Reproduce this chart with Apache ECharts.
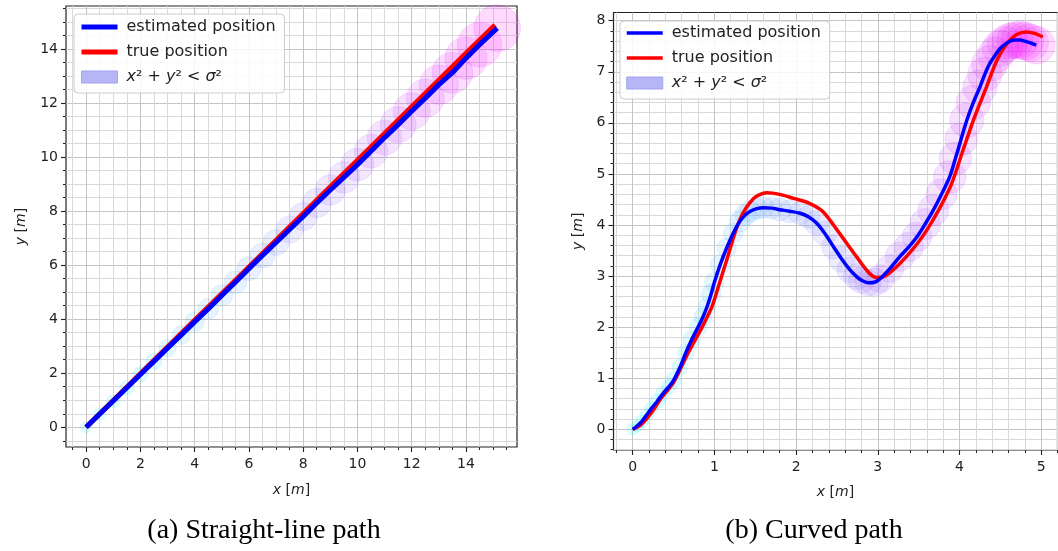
<!DOCTYPE html>
<html><head><meta charset="utf-8">
<script src="https://cdn.jsdelivr.net/npm/echarts@6/dist/echarts.min.js"></script>
<style>html,body{margin:0;padding:0;background:#fff}#c{width:1058px;height:551px}</style>
</head><body><div id="c"></div>
<script>
// ---------- (a) straight-line path ----------
const straightEstX = [0,0.5,1,1.5,2,2.5,3,3.5,4,4.5,5,5.5,6,6.5,7,7.5,8,8.5,9,9.5,10,10.5,11,11.5,12,12.5,13,13.5,14,14.5,15.15];
const straightEstY = [0,0.49,0.97,1.46,1.95,2.44,2.93,3.41,3.9,4.38,4.88,5.37,5.87,6.36,6.84,7.32,7.8,8.3,8.78,9.25,9.72,10.22,10.72,11.2,11.7,12.18,12.68,13.12,13.66,14.16,14.77];
const straightSigma = [0.2,0.22,0.24,0.26,0.28,0.3,0.32,0.34,0.36,0.38,0.4,0.42,0.44,0.46,0.48,0.5,0.52,0.54,0.56,0.58,0.6,0.62,0.64,0.66,0.68,0.7,0.72,0.75,0.78,0.82,0.86];
const straightTrueX = [0,1,2,3,4,5,6,7,8,9,10,11,12,13,14,15.07];
const straightTrueY = [0,0.99,1.98,2.97,3.96,4.94,5.93,6.92,7.91,8.9,9.88,10.87,11.86,12.85,13.84,14.89];
const straightXTicks = [0,2,4,6,8,10,12,14];
const straightYTicks = [0,2,4,6,8,10,12,14];

// ---------- (b) curved path ----------
const curvedEstX = [0,0.05,0.11,0.17,0.23,0.3,0.37,0.44,0.5,0.58,0.65,0.72,0.8,0.86,0.91,0.96,1.0,1.07,1.15,1.23,1.31,1.38,1.44,1.52,1.6,1.7,1.8,1.92,2.05,2.15,2.25,2.35,2.46,2.56,2.66,2.74,2.8,2.88,2.96,3.03,3.15,3.27,3.38,3.48,3.58,3.68,3.78,3.88,3.95,4.02,4.09,4.17,4.25,4.31,4.37,4.44,4.5,4.56,4.62,4.68,4.74,4.8,4.86,4.94];
const curvedEstY = [0,0.06,0.15,0.28,0.41,0.55,0.7,0.83,0.96,1.22,1.5,1.75,2.0,2.2,2.4,2.65,2.88,3.22,3.55,3.84,4.07,4.2,4.27,4.32,4.34,4.33,4.3,4.27,4.23,4.16,4.04,3.84,3.57,3.33,3.12,2.99,2.92,2.87,2.88,2.95,3.15,3.38,3.57,3.77,4.02,4.29,4.6,4.94,5.3,5.68,6.05,6.4,6.7,6.95,7.16,7.33,7.46,7.54,7.6,7.62,7.62,7.6,7.57,7.52];
const curvedSigma = [0.07,0.07,0.08,0.08,0.08,0.09,0.09,0.09,0.1,0.1,0.1,0.11,0.11,0.11,0.11,0.12,0.12,0.12,0.12,0.12,0.13,0.13,0.13,0.13,0.13,0.13,0.14,0.14,0.14,0.14,0.15,0.15,0.15,0.16,0.16,0.16,0.16,0.16,0.17,0.17,0.17,0.18,0.18,0.18,0.19,0.19,0.19,0.2,0.2,0.2,0.21,0.21,0.21,0.21,0.22,0.22,0.22,0.22,0.22,0.22,0.23,0.23,0.23,0.23];
const curvedTrueX = [0,0.11,0.25,0.33,0.5,0.68,0.85,0.97,1.06,1.15,1.31,1.48,1.64,1.8,1.97,2.17,2.33,2.53,2.74,2.9,2.99,3.11,3.35,3.6,3.88,4.03,4.17,4.33,4.46,4.58,4.7,4.82,4.92,5.02];
const curvedTrueY = [0,0.1,0.37,0.57,0.92,1.5,2.0,2.4,2.85,3.31,4.1,4.52,4.63,4.6,4.52,4.42,4.26,3.84,3.38,3.05,2.97,3.02,3.38,3.9,4.72,5.4,6.05,6.7,7.23,7.55,7.73,7.78,7.75,7.68];
const curvedXTicks = [0,1,2,3,4,5];
const curvedYTicks = [0,1,2,3,4,5,6,7,8];

const seriesNames = ['estimated position', 'true position', 'sigma'];
const captions = ['(a) Straight-line path', '(b) Curved path'];

function minorRange(a, b, step, major) {
  const out = [];
  for (let v = a; v <= b + 1e-9; v += step) {
    const r = Math.round(v * 1000) / 1000;
    if (!major.some(m => Math.abs(m - r) < 1e-6)) out.push(r);
  }
  return out;
}
const FONT = 'DejaVu Sans';
const INK = '#222';

function axisPair(dim, gridIndex, min, max, major, minor, nameGap) {
  const pos = dim === 'x' ? 'bottom' : 'left';
  const main = {
    type: 'value', gridIndex, min, max, position: pos,
    axisLine: { show: false, onZero: false },
    axisTick: { show: true, customValues: major, length: 5, lineStyle: { color: INK, width: 1.1 } },
    axisLabel: { customValues: major, fontSize: 14, color: INK, fontFamily: FONT, margin: dim === 'x' ? 10 : 8 },
    splitLine: { show: true, lineStyle: { color: '#c4c4c4', width: 1 } },
    name: dim === 'x' ? '{i|x} [{i|m}]' : '{i|y} [{i|m}]',
    nameLocation: 'middle', nameGap,
    nameTextStyle: { fontSize: 14, color: INK, fontFamily: FONT,
      rich: { i: { fontStyle: 'italic', fontSize: 14, color: INK, fontFamily: FONT } } }
  };
  const min2 = {
    type: 'value', gridIndex, min, max, position: pos,
    axisLine: { show: false, onZero: false },
    axisTick: { show: true, customValues: minor, length: 3, lineStyle: { color: INK, width: 1 } },
    axisLabel: { show: false },
    splitLine: { show: true, lineStyle: { color: '#d9d9d9', width: 1 } }
  };
  return [main, min2];
}

function coolColor(t, a) {
  return 'rgba(' + Math.round(255 * t) + ',' + Math.round(255 * (1 - t)) + ',255,' + a + ')';
}
function circles(xs, ys, sig, ppu) {
  const n = xs.length;
  return xs.map((x, i) => {
    const t = i / (n - 1);
    return { value: [x, ys[i]], symbolSize: 2 * sig[i] * ppu,
      itemStyle: { color: coolColor(t, 0.18), borderColor: coolColor(t, 0.2), borderWidth: 0.8 } };
  });
}
const zip = (a, b) => a.map((v, i) => [v, b[i]]);

function legendFor(left, top, padding, gap, lw) {
  return {
    left, top, orient: 'vertical', padding, itemGap: gap,
    itemWidth: 36, itemHeight: 12,
    backgroundColor: 'rgba(255,255,255,0.85)', borderColor: '#cccccc', borderWidth: 1, borderRadius: 4,
    lineStyle: { width: lw },
    textStyle: { fontSize: 16, color: INK, fontFamily: FONT, padding: [0, 0, 0, 4],
      rich: { i: { fontStyle: 'italic', fontSize: 16, color: INK, fontFamily: FONT } } },
    formatter: n => n === 'sigma' ? '{i|x}² + {i|y}² < {i|σ}²' : n,
    data: [
      { name: seriesNames[0], itemStyle: { opacity: 0 } },
      { name: seriesNames[1], itemStyle: { opacity: 0 } },
      { name: seriesNames[2], icon: 'rect', itemStyle: { color: '#b6b6f6', borderColor: '#a2a2ef', borderWidth: 1, opacity: 1 } }
    ]
  };
}

function buildOption(ppuA, ppuB) {
  const ax0 = axisPair('x', 0, -0.74, 15.88, straightXTicks, minorRange(-0.5, 15.5, 0.5, straightXTicks), 36);
  const ay0 = axisPair('y', 0, -0.73, 15.59, straightYTicks, minorRange(-0.5, 15.5, 0.5, straightYTicks), 38);
  const ax1 = axisPair('x', 1, -0.235, 5.2, curvedXTicks, minorRange(-0.2, 5.2, 0.2, curvedXTicks), 35);
  const ay1 = axisPair('y', 1, -0.405, 8.16, curvedYTicks, minorRange(-0.4, 8.2, 0.2, curvedYTicks), 28);
  return {
    animation: false,
    backgroundColor: '#fff',
    grid: [
      { left: 66, top: 6, width: 451, height: 441, show: true, borderColor: INK, borderWidth: 1.2, backgroundColor: 'transparent' },
      { left: 613.5, top: 12.5, width: 444, height: 437.5, show: true, borderColor: INK, borderWidth: 1.2, backgroundColor: 'transparent' }
    ],
    xAxis: [ax0[0], ax0[1], ax1[0], ax1[1]],
    yAxis: [ay0[0], ay0[1], ay1[0], ay1[1]],
    legend: [legendFor(74, 14, [5, 9, 8, 5], 9, 5), legendFor(620, 21, [4, 9, 8, 5], 9, 3.5)],
    graphic: [
      { type: 'text', x: 264, y: 531, style: { text: captions[0], font: '28px "Liberation Serif"', fill: '#000', align: 'center', verticalAlign: 'middle' } },
      { type: 'text', x: 814, y: 531, style: { text: captions[1], font: '28px "Liberation Serif"', fill: '#000', align: 'center', verticalAlign: 'middle' } }
    ],
    series: [
      { name: seriesNames[2], type: 'scatter', xAxisIndex: 0, yAxisIndex: 0, symbol: 'circle', z: 1, silent: true,
        data: circles(straightEstX, straightEstY, straightSigma, ppuA) },
      { name: seriesNames[1], type: 'line', xAxisIndex: 0, yAxisIndex: 0, symbol: 'none', z: 3,
        lineStyle: { color: '#ff0000', width: 5 }, itemStyle: { color: '#ff0000' }, data: zip(straightTrueX, straightTrueY) },
      { name: seriesNames[0], type: 'line', xAxisIndex: 0, yAxisIndex: 0, symbol: 'none', z: 4,
        lineStyle: { color: '#0000ff', width: 5 }, itemStyle: { color: '#0000ff' }, data: zip(straightEstX, straightEstY) },
      { name: seriesNames[2], type: 'scatter', xAxisIndex: 2, yAxisIndex: 2, symbol: 'circle', z: 1, silent: true,
        data: circles(curvedEstX, curvedEstY, curvedSigma, ppuB) },
      { name: seriesNames[1], type: 'line', xAxisIndex: 2, yAxisIndex: 2, symbol: 'none', z: 3, smooth: 0.3,
        lineStyle: { color: '#ff0000', width: 3.5 }, itemStyle: { color: '#ff0000' }, data: zip(curvedTrueX, curvedTrueY) },
      { name: seriesNames[0], type: 'line', xAxisIndex: 2, yAxisIndex: 2, symbol: 'none', z: 4, smooth: 0.3,
        lineStyle: { color: '#0000ff', width: 3.5 }, itemStyle: { color: '#0000ff' }, data: zip(curvedEstX, curvedEstY) }
    ]
  };
}

const chart = echarts.init(document.getElementById('c'), null, { renderer: 'canvas' });
chart.setOption(buildOption(0, 0));
const ppuA = chart.convertToPixel({ xAxisIndex: 0 }, 1) - chart.convertToPixel({ xAxisIndex: 0 }, 0);
const ppuB = chart.convertToPixel({ xAxisIndex: 2 }, 1) - chart.convertToPixel({ xAxisIndex: 2 }, 0);
chart.setOption(buildOption(ppuA, ppuB), true);
</script></body></html>
